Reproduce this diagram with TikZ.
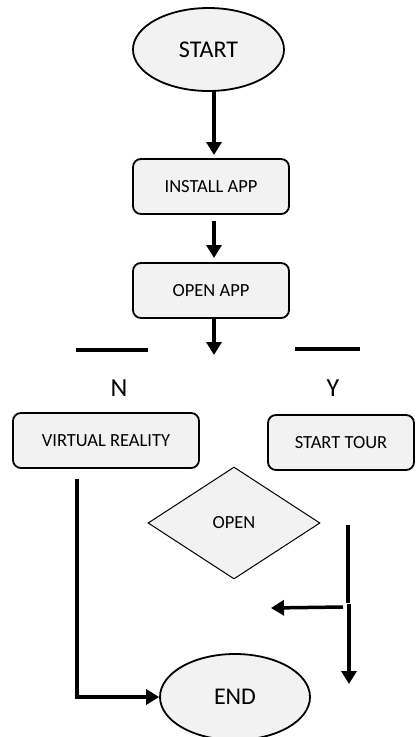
\documentclass[tikz,border=0pt]{standalone}
\usepackage{fontspec}
\setmainfont{Carlito}
\usetikzlibrary{arrows.meta,shapes.geometric}
\definecolor{boxfill}{HTML}{F2F2F2}
\tikzset{
  term/.style={ellipse,draw=black,line width=1.8pt,fill=boxfill,inner sep=0pt},
  proc/.style={rectangle,rounded corners=8pt,draw=black,line width=1.8pt,fill=boxfill,minimum width=156pt,minimum height=55pt,font=\fontsize{18.5}{20}\selectfont},
  deci/.style={diamond,draw=black,line width=1pt,fill=boxfill,minimum width=172pt,minimum height=112pt,inner sep=0pt,font=\fontsize{18.5}{20}\selectfont},
  flow/.style={line width=3.5pt,-{Triangle[length=13pt,width=15pt]}},
  bar/.style={line width=4pt},
  lbl/.style={font=\fontsize{26}{28}\selectfont}
}
\begin{document}
\begin{tikzpicture}[x=1pt,y=-1pt]
\useasboundingbox (0,0) rectangle (416,737);
\node[term,minimum width=151pt,minimum height=83pt,font=\fontsize{24}{26}\selectfont] (start) at (208.5,49.5) {START};
\node[proc] (install) at (211,186.5) {INSTALL APP};
\node[proc] (openapp) at (211,290.5) {OPEN APP};
\node[proc,minimum width=186pt] (vr) at (106,440.5) {VIRTUAL REALITY};
\node[proc,minimum width=146pt] (tour) at (341,442.5) {START TOUR};
\node[deci] (open) at (234,523) {OPEN};
\node[term,minimum width=150pt,minimum height=86pt,font=\fontsize{24}{26}\selectfont] (end) at (235,697) {END};
\node[lbl] (n) at (119,388) {N};
\node[lbl] (y) at (333,388) {Y};
% connectors
\coordinate (a1s) at (214,91);
\coordinate (a1e) at (214,155);
\draw[flow] (a1s) -- (a1e);
\coordinate (a2s) at (214,221);
\coordinate (a2e) at (214,258);
\draw[flow] (a2s) -- (a2e);
\coordinate (a3s) at (214,318);
\coordinate (a3e) at (214,355);
\draw[flow] (a3s) -- (a3e);
\coordinate (bl1) at (76,350);
\coordinate (bl2) at (148,350);
\coordinate (br1) at (295,349);
\coordinate (br2) at (360,349);
\draw[bar] (bl1) -- (bl2);
\draw[bar] (br1) -- (br2);
% left branch
\coordinate (l1) at (77,479);
\coordinate (l2) at (77,697);
\draw[line width=3.5pt,-{Triangle[length=13pt,width=15pt]}] (l1) -- (l2) -- (end.west);
% right branch
\coordinate (r1) at (348,525);
\coordinate (r2) at (348,603);
\draw[line width=3.5pt] (r1) -- (r2);
\coordinate (h1) at (343,607);
\coordinate (h2) at (271,608);
\draw[flow] (h1) -- (h2);
\coordinate (v1) at (349,604);
\coordinate (v2) at (349,684);
\draw[flow] (v1) -- (v2);
\end{tikzpicture}
\end{document}
